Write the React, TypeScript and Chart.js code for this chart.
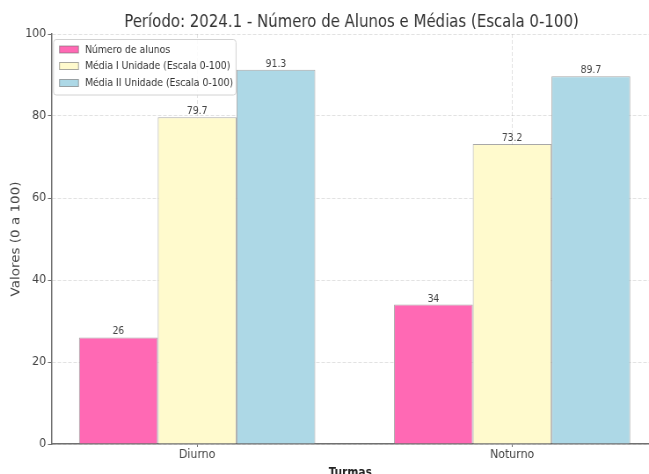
import React, { useEffect, useRef } from 'react';
import { Chart, registerables } from 'chart.js';

Chart.register(...registerables);

// ---- data ----
const chartTitle = 'Período: 2024.1 - Número de Alunos e Médias (Escala 0-100)';
const categories = ['Diurno', 'Noturno'];
const seriesNames = [
  'Número de alunos',
  'Média I Unidade (Escala 0-100)',
  'Média II Unidade (Escala 0-100)',
];
const numeroAlunos = [26, 34];
const mediaI = [79.7, 73.2];
const mediaII = [91.3, 89.7];
const yTicks = [0, 20, 40, 60, 80, 100];
const yAxisTitle = 'Valores (0 a 100)';
const xAxisTitle = 'Turmas';

const seriesValues = [numeroAlunos, mediaI, mediaII];
const COLORS = ['#FF69B4', '#FFFACD', '#ADD8E6'];
const EDGE = 'rgba(110,110,110,0.6)';

// ---- layout (canvas drawn wider, then squeezed horizontally) ----
const VIEW_W = 649;
const VIEW_H = 474;
const W = 738;
const H = 490;
const S = VIEW_W / W;
const FONT = '"DejaVu Sans", sans-serif';
const PLOT_LEFT = 58.5;
const PLOT_TOP = 34;
const PLOT_BOTTOM = 444;

const overlayPlugin = {
  id: 'overlay',
  afterDraw(chart: any) {
    const ctx: CanvasRenderingContext2D = chart.ctx;
    const xs = chart.scales.x;
    ctx.save();

    // value labels above bars
    ctx.font = `10.5px ${FONT}`;
    ctx.fillStyle = '#444';
    ctx.textAlign = 'center';
    ctx.textBaseline = 'alphabetic';
    chart.data.datasets.forEach((_ds: any, di: number) => {
      const meta = chart.getDatasetMeta(di);
      meta.data.forEach((el: any, i: number) => {
        ctx.fillText(String(seriesValues[di][i]), el.x, el.y - 3);
      });
    });

    // title
    ctx.font = `17px ${FONT}`;
    ctx.fillStyle = '#333';
    ctx.textAlign = 'center';
    ctx.fillText(chartTitle, xs.getPixelForValue(0.49), 27);

    // legend (inside plot, upper left)
    const lx = 53.5 / S;
    const ly = 39.5;
    const lw = (236 - 53.5) / S;
    const lh = 95 - 39.5;
    ctx.beginPath();
    (ctx as any).roundRect(lx, ly, lw, lh, 3);
    ctx.fillStyle = 'rgba(255,255,255,0.85)';
    ctx.fill();
    ctx.strokeStyle = '#d2d2d2';
    ctx.lineWidth = 1;
    ctx.stroke();

    const rows = [49.5, 66, 83];
    const px = 59.5 / S;
    const pw = (78.5 - 59.5) / S;
    const ph = 7;
    ctx.font = `10.6px ${FONT}`;
    ctx.textAlign = 'left';
    ctx.textBaseline = 'middle';
    seriesNames.forEach((name, i) => {
      const cy = rows[i];
      ctx.fillStyle = COLORS[i];
      ctx.fillRect(px, cy - ph / 2, pw, ph);
      ctx.strokeStyle = EDGE;
      ctx.strokeRect(px, cy - ph / 2, pw, ph);
      ctx.fillStyle = '#333';
      ctx.fillText(name, 85 / S, cy + 0.5);
    });

    ctx.restore();
  },
};

export default function App() {
  const ref = useRef<HTMLCanvasElement>(null);

  useEffect(() => {
    if (!ref.current) return;
    const gridColor = 'rgba(150,150,150,0.28)';
    const axisColor = '#707070';
    const chart = new Chart(ref.current, {
      type: 'bar',
      data: {
        datasets: seriesNames.map((name, di) => ({
          label: name,
          data: categories.map((_c, i) => ({ x: i, y: seriesValues[di][i] })),
          backgroundColor: COLORS[di],
          borderColor: EDGE,
          borderWidth: 1,
          categoryPercentage: 0.75,
          barPercentage: 1.0,
        })),
      },
      options: {
        responsive: false,
        animation: false,
        devicePixelRatio: 1,
        layout: { padding: { left: 0, top: PLOT_TOP, right: 0, bottom: 0 } },
        plugins: {
          legend: { display: false },
          title: { display: false },
          tooltip: { enabled: false },
        },
        scales: {
          x: {
            type: 'linear',
            min: -0.4625,
            max: 1.4345,
            offset: false,
            z: 1,
            afterBuildTicks: (s: any) => {
              s.ticks = categories.map((_c, i) => ({ value: i }));
            },
            afterFit: (s: any) => {
              s.height = H - PLOT_BOTTOM;
            },
            ticks: {
              callback: (v: any) => categories[v] ?? '',
              font: { family: FONT, size: 12.5 },
              color: '#444',
              padding: 0,
              maxRotation: 0,
              autoSkip: false,
            },
            grid: {
              offset: false,
              color: gridColor,
              lineWidth: 1,
              tickLength: 3,
              tickColor: axisColor,
            },
            border: { color: axisColor, width: 1.5, dash: [4, 2] },
            title: {
              display: true,
              text: xAxisTitle,
              font: { family: FONT, size: 12, weight: 'bold' },
              color: '#222',
              padding: { top: 0, bottom: 10 },
            },
          },
          y: {
            type: 'linear',
            min: 0,
            max: 100,
            z: 1,
            afterBuildTicks: (s: any) => {
              s.ticks = yTicks.map((v) => ({ value: v }));
            },
            afterFit: (s: any) => {
              s.width = PLOT_LEFT;
            },
            ticks: {
              font: { family: FONT, size: 12.5 },
              color: '#444',
              padding: 2,
            },
            grid: {
              color: gridColor,
              lineWidth: 1,
              tickLength: 4,
              tickColor: axisColor,
            },
            border: { color: axisColor, width: 1.5, dash: [4, 2] },
            title: {
              display: true,
              text: yAxisTitle,
              font: { family: FONT, size: 13.5 },
              color: '#444',
              padding: { top: 10, bottom: 0 },
            },
          },
        },
      },
      plugins: [overlayPlugin],
    } as any);
    return () => chart.destroy();
  }, []);

  return (
    <div
      style={{
        position: 'fixed',
        left: 0,
        top: 0,
        width: VIEW_W,
        height: VIEW_H,
        overflow: 'hidden',
        background: '#fff',
      }}
    >
      <div
        style={{
          width: W,
          height: H,
          transform: `scaleX(${S})`,
          transformOrigin: '0 0',
        }}
      >
        <canvas ref={ref} width={W} height={H} />
      </div>
    </div>
  );
}
